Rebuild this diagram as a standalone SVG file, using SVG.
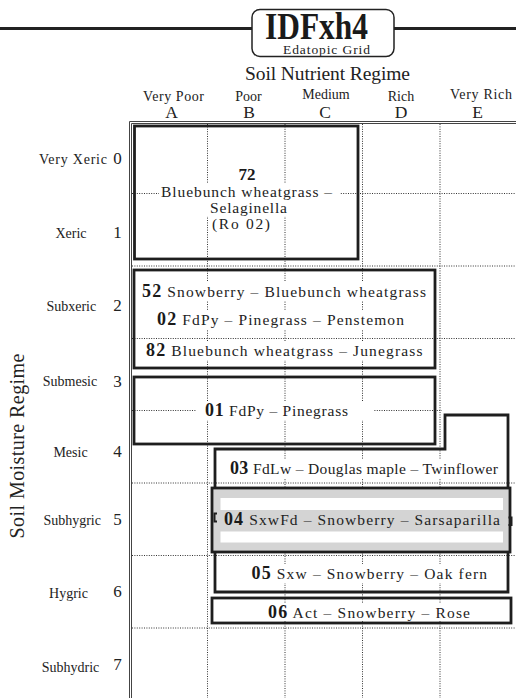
<svg xmlns="http://www.w3.org/2000/svg" width="516" height="698" viewBox="0 0 516 698">
<style>
text{font-family:"Liberation Serif","Times New Roman",serif;fill:#222}
.grid{stroke:#333;stroke-width:1;stroke-dasharray:1 1.4;fill:none}
.frame{stroke:#444;stroke-width:1;fill:none}
.box{fill:none;stroke:#1e1e1e;stroke-width:2.8}
.bg{fill:#fff}
.t{font-size:15.5px}
.n{font-weight:bold;font-size:18px;fill:#1a1a1a}
.lab{font-size:14px;text-anchor:middle}
.dig{font-size:17px;text-anchor:middle}
.col{font-size:14px;text-anchor:middle}
.let{font-size:17.5px;text-anchor:middle}
.mid{text-anchor:middle}
</style>
<rect width="516" height="698" fill="#fff"/>

<g id="header">
  <path d="M0,28.5 H252 M394,28.5 H516" stroke="#222" stroke-width="2.8" fill="none"/>
  <rect x="252" y="9.5" width="142" height="47" rx="8" fill="#fff" stroke="#222" stroke-width="1.5"/>
  <text x="265" y="39" font-size="38" font-weight="bold" textLength="103" lengthAdjust="spacingAndGlyphs" style="fill:#1a1a1a">IDFxh4</text>
  <text x="283" y="53.5" font-size="13.5" textLength="87">Edatopic Grid</text>
  <text x="245" y="80" font-size="19.5" textLength="165">Soil Nutrient Regime</text>
</g>

<g id="column-labels">
  <text x="143" y="100.5" font-size="14" textLength="61">Very Poor</text>
  <text class="col" x="248.5" y="100.5">Poor</text>
  <text class="col" x="326" y="98.5">Medium</text>
  <text class="col" x="401" y="100.5">Rich</text>
  <text x="450" y="98.5" font-size="14" textLength="62">Very Rich</text>
  <text class="let" x="171.5" y="118">A</text>
  <text class="let" x="249" y="118">B</text>
  <text class="let" x="325" y="118">C</text>
  <text class="let" x="401" y="118">D</text>
  <text class="let" x="477.5" y="118">E</text>
</g>

<g id="row-labels">
  <text transform="translate(24,446) rotate(-90)" font-size="20" text-anchor="middle" textLength="185">Soil Moisture Regime</text>
  <text class="lab" x="73" y="164" textLength="68">Very Xeric</text>
  <text class="lab" x="71" y="238">Xeric</text>
  <text class="lab" x="71.3" y="311">Subxeric</text>
  <text class="lab" x="70" y="386">Submesic</text>
  <text class="lab" x="70.5" y="457">Mesic</text>
  <text class="lab" x="72.2" y="525">Subhygric</text>
  <text class="lab" x="68.5" y="598">Hygric</text>
  <text class="lab" x="70.5" y="672">Subhydric</text>
  <text class="dig" x="117.5" y="164">0</text>
  <text class="dig" x="117.5" y="238">1</text>
  <text class="dig" x="117.5" y="311">2</text>
  <text class="dig" x="117.5" y="386.5">3</text>
  <text class="dig" x="117.5" y="457">4</text>
  <text class="dig" x="117.5" y="525">5</text>
  <text class="dig" x="117.5" y="597">6</text>
  <text class="dig" x="117.5" y="670">7</text>
</g>

<g id="connectors">
  <path class="frame" d="M129.5,698 V121.5 H516 M131.5,698 V123.5 H516"/>
  <path class="grid" d="M207.5,124 V698 M285,124 V698 M362.5,124 V698 M440,124 V698"/>
  <path class="grid" d="M132,193.5 H516 M132,266 H516 M132,338.5 H516 M132,410.5 H442 M132,483 H516 M132,555.5 H516 M132,628 H516"/>
</g>

<g id="node-72">
  <rect class="box" x="134.5" y="126" width="223.5" height="133"/>
  <rect class="bg" x="159" y="183" width="181" height="17"/>
  <rect class="bg" x="205" y="200" width="84" height="16.5"/>
  <text class="n mid" x="247" y="180" style="font-size:17px">72</text>
  <text class="t" x="161" y="197" textLength="171">Bluebunch wheatgrass –</text>
  <text class="t" x="210" y="213" textLength="77">Selaginella</text>
  <text class="t" x="212" y="229" textLength="58">(Ro 02)</text>
</g>

<g id="node-52-02-82">
  <rect class="box" x="134" y="270" width="301" height="98"/>
  <rect class="bg" x="139" y="282" width="290" height="19"/>
  <rect class="bg" x="154" y="310" width="253" height="19"/>
  <rect class="bg" x="143" y="341" width="282" height="19"/>
  <text class="t" x="142" y="297" textLength="284"><tspan class="n">52</tspan> Snowberry – Bluebunch wheatgrass</text>
  <text class="t" x="157" y="325" textLength="247"><tspan class="n">02</tspan> FdPy – Pinegrass – Penstemon</text>
  <text class="t" x="146" y="356" textLength="276.5"><tspan class="n">82</tspan> Bluebunch wheatgrass – Junegrass</text>
</g>

<g id="node-01">
  <rect class="box" x="134" y="377" width="301" height="67"/>
  <rect class="bg" x="196" y="401" width="177" height="19"/>
  <text class="t" x="205" y="416" textLength="143"><tspan class="n">01</tspan> FdPy – Pinegrass</text>
</g>

<g id="node-03-05">
  <path class="box" d="M215,449 H445 V415 H508 V592 H215 Z"/>
  <rect class="bg" x="227" y="459" width="274" height="19"/>
  <text class="t" x="230" y="474" textLength="268"><tspan class="n">03</tspan> FdLw – Douglas maple – Twinflower</text>
  <rect class="bg" x="248" y="564" width="242" height="19"/>
  <text class="t" x="251.5" y="579" textLength="235.5"><tspan class="n">05</tspan> Sxw – Snowberry – Oak fern</text>
</g>

<g id="node-04">
  <rect x="212" y="488" width="298" height="64" fill="#d4d4d4" stroke="#1e1e1e" stroke-width="2.8"/>
  <rect x="220.5" y="498" width="282.5" height="12" fill="#fff"/>
  <rect x="220.5" y="531.5" width="282.5" height="11" fill="#fff"/>
  <path d="M217,513.5 H214.5 V521.5 H217 M508.5,517.5 H511.5 V525 H508.5" fill="none" stroke="#1e1e1e" stroke-width="2"/>
  <text class="t" x="224" y="525" textLength="276"><tspan class="n">04</tspan> SxwFd – Snowberry – Sarsaparilla</text>
</g>

<g id="node-06">
  <rect class="box" x="212" y="598" width="299" height="25"/>
  <rect class="bg" x="265" y="603" width="208" height="18"/>
  <text class="t" x="268" y="618" textLength="202"><tspan class="n">06</tspan> Act – Snowberry – Rose</text>
</g>
</svg>
